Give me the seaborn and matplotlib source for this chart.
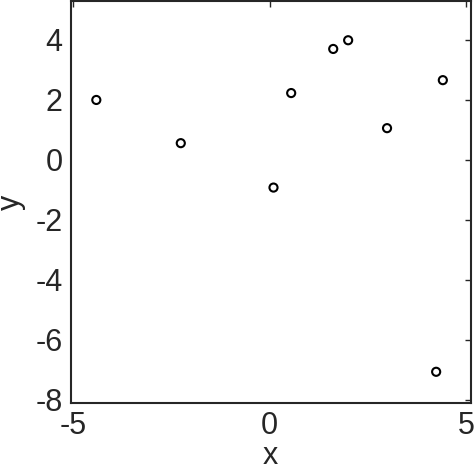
import numpy as np
import pandas as pd
import seaborn as sns
import matplotlib.pyplot as plt

# valeurs
x_vals = [-4.41, -2.26, 0.10, 0.55, 1.62, 2.00, 2.99, 4.41, 4.24]
y_vals = [2.00, 0.56, -0.92, 2.23, 3.70, 3.99, 1.06, 2.66, -7.06]
x_ticks = [-5, 0, 5]
y_ticks = [-8, -6, -4, -2, 0, 2, 4]

data = pd.DataFrame({"x": x_vals, "y": y_vals})

sns.set_style("white")
plt.rcParams['font.family'] = ['Liberation Sans', 'DejaVu Sans']
plt.rcParams['axes.unicode_minus'] = False

fig = plt.figure(figsize=(4.75, 4.73), dpi=100)
ax = fig.add_axes([0.149, 0.148, 0.842, 0.850])

sns.scatterplot(x="x", y="y", data=data, ax=ax, s=34, marker="o",
                facecolor="none", edgecolor="black", linewidth=1.5)

ax.set_xlim(-5.06, 5.12)
ax.set_ylim(-8.1, 5.3)
ax.set_xticks(x_ticks)
ax.set_yticks(y_ticks)
ax.tick_params(direction="in", length=4, width=1.0, top=True, right=True,
               labelsize=22, colors="#262626", pad=6)
for sp in ax.spines.values():
    sp.set_visible(True)
    sp.set_color("#262626")
    sp.set_linewidth(1.5)

ax.set_xlabel("x", fontsize=22, color="#262626", labelpad=0)
ax.set_ylabel("y", fontsize=22, color="#262626")
ax.yaxis.set_label_coords(-0.112, 0.5)

fig.savefig("out.png", dpi=100)
